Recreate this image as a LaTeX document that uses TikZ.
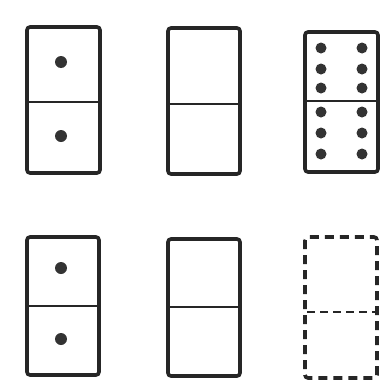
\documentclass[tikz,border=0pt]{standalone}
\begin{document}
\begin{tikzpicture}[x=1pt,y=-1pt,
  frame/.style={draw=black!85,line width=3.6pt,rounded corners=3pt},
  divider/.style={draw=black!85,line width=2.6pt},
  dashframe/.style={draw=black!85,line width=3.6pt,rounded corners=3pt,dash pattern=on 9pt off 6pt},
  dashdiv/.style={draw=black!85,line width=2.8pt,dash pattern=on 8pt off 5pt},
  pip/.style={fill=black!80}]
\useasboundingbox (0,0) rectangle (383,391);
\fill[white] (0,0) rectangle (383,391);
% top row
\draw[frame] (27,27) rectangle (100,173);
\draw[divider] (27,102) -- (100,102);
\fill[pip] (61,62) circle (6);
\fill[pip] (61,136) circle (6);
\draw[frame] (168,28) rectangle (240,174);
\draw[divider] (168,104) -- (240,104);
\draw[frame] (305,32) rectangle (378,172);
\draw[divider] (305,101) -- (378,101);
\foreach \yy in {48,69,88,112,133,154}{
  \fill[pip] (321,\yy) circle (5.5);
  \fill[pip] (362,\yy) circle (5.5);
}
% bottom row
\draw[frame] (27,237) rectangle (99,375);
\draw[divider] (27,306) -- (99,306);
\fill[pip] (61,268) circle (6);
\fill[pip] (61,339) circle (6);
\draw[frame] (168,239) rectangle (240,376);
\draw[divider] (168,307) -- (240,307);
\draw[dashframe] (305,237) rectangle (377,378);
\draw[dashdiv] (307,312) -- (376,312);
\end{tikzpicture}
\end{document}
